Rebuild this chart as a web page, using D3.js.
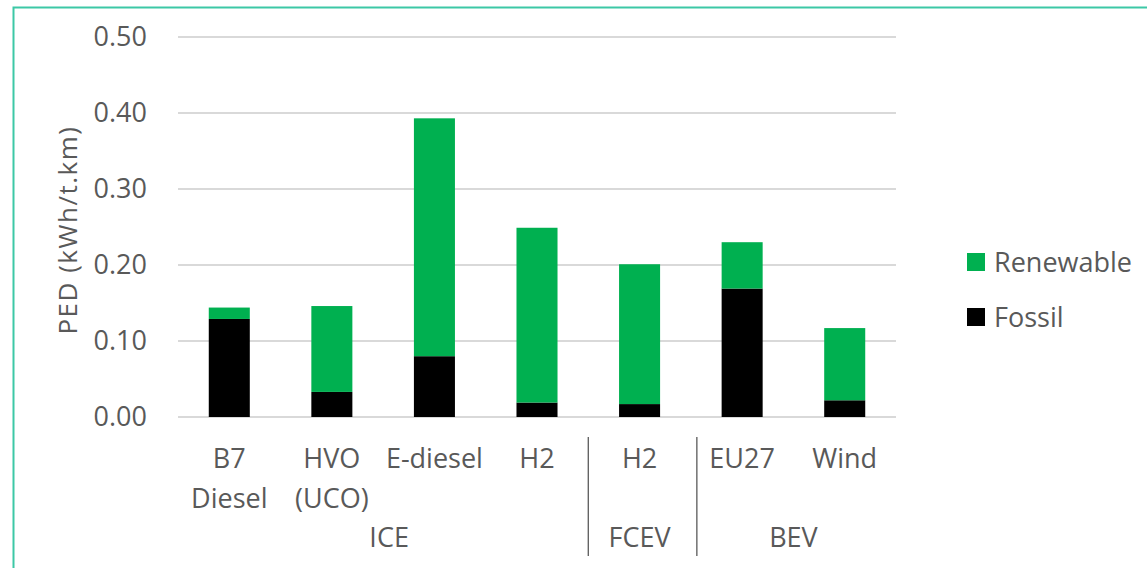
<!DOCTYPE html>
<html>
<head>
<meta charset="utf-8">
<script src="https://cdn.jsdelivr.net/npm/d3@7"></script>
<style>
  body { margin: 0; background: #fff; }
  text { font-family: "Open Sans", sans-serif; fill: #595959; }
</style>
</head>
<body>
<div id="chart"></div>
<script>
// data
var categories = ["B7|Diesel", "HVO|(UCO)", "E-diesel", "H2", "H2 ", "EU27", "Wind"];
var groups = ["ICE", "ICE", "ICE", "ICE", "FCEV", "BEV", "BEV"];
var fossil = [0.129, 0.033, 0.080, 0.019, 0.017, 0.169, 0.022];
var renewable = [0.015, 0.113, 0.313, 0.230, 0.184, 0.061, 0.095];
var yTicks = [0, 0.1, 0.2, 0.3, 0.4, 0.5];
var seriesNames = ["Renewable", "Fossil"];
var seriesColors = ["#00b050", "#000000"];

var W = 1147, H = 568,
	margin = {top: 37, left: 178, right: 251, bottom: 151},
	width = W - margin.left - margin.right,
	height = H - margin.top - margin.bottom;

var svg = d3.select("#chart").append("svg")
	.attr("width", W).attr("height", H);

// outer frame (cut off at right and bottom like the screenshot)
svg.append("rect")
	.attr("x", 13.5).attr("y", 7.5)
	.attr("width", W).attr("height", H)
	.attr("fill", "none").attr("stroke", "#3cc8a6").attr("stroke-width", 2);

var g = svg.append("g").attr("transform", "translate(" + margin.left + "," + margin.top + ")");

var x = d3.scaleBand().domain(categories).range([0, width]).paddingInner(0.6).paddingOuter(0.3);
var y = d3.scaleLinear().domain([0, 0.5]).range([height, 0]);

// gridlines
g.selectAll(".grid").data(yTicks).enter().append("line")
	.attr("x1", 0).attr("x2", width)
	.attr("y1", function(d) { return y(d); }).attr("y2", function(d) { return y(d); })
	.attr("stroke", "#d9d9d9").attr("stroke-width", 2);

var yAxis = d3.axisLeft(y).tickValues(yTicks).tickFormat(d3.format(".2f")).tickSize(0).tickPadding(31);
g.append("g").call(yAxis)
	.call(function(a) { a.select(".domain").remove(); })
	.selectAll("text").style("font-size", "27px").attr("fill", "#595959");

// stacked bars
var rows = categories.map(function(c, i) { return {cat: c, Fossil: fossil[i], Renewable: renewable[i]}; });
var stack = d3.stack().keys(["Fossil", "Renewable"])(rows);

g.selectAll(".layer").data(stack).enter().append("g")
	.attr("fill", function(d) { return seriesColors[seriesNames.indexOf(d.key)]; })
	.selectAll("rect").data(function(d) { return d; }).enter().append("rect")
	.attr("x", function(d) { return x(d.data.cat); })
	.attr("width", x.bandwidth())
	.attr("y", function(d) { return y(d[1]); })
	.attr("height", function(d) { return y(d[0]) - y(d[1]); });

// category labels
var step = x.step();
var labels = g.selectAll(".cat").data(categories).enter().append("text")
	.attr("text-anchor", "middle")
	.attr("x", function(d) { return x(d) + x.bandwidth() / 2; })
	.attr("y", height + 51)
	.style("font-size", "27px");
labels.each(function(d) {
	var parts = d.trim().split("|");
	var t = d3.select(this);
	parts.forEach(function(p, i) {
		t.append("tspan").attr("x", t.attr("x")).attr("dy", i === 0 ? 0 : 40).text(p);
	});
});

// group labels and separators
var groupNames = ["ICE", "FCEV", "BEV"];
groupNames.forEach(function(gn, gi) {
	var idx = [];
	groups.forEach(function(v, i) { if (v === gn) idx.push(i); });
	var first = categories[idx[0]], last = categories[idx[idx.length - 1]];
	var cx = (x(first) + x(last)) / 2 + x.bandwidth() / 2;
	g.append("text").attr("text-anchor", "middle")
		.attr("x", cx + (gn === "ICE" ? 6 : 0)).attr("y", height + 130)
		.style("font-size", "27px").text(gn);
	if (gi > 0) {
		var bx = x(first) - (step - x.bandwidth()) / 2;
		if (gn === "BEV") bx += 6;
		g.append("line")
			.attr("x1", bx).attr("x2", bx)
			.attr("y1", height + 20).attr("y2", height + 139)
			.attr("stroke", "#595959").attr("stroke-width", 1.3);
	}
});

// legend
var legend = svg.append("g").attr("transform", "translate(967,253)");
seriesNames.forEach(function(s, i) {
	var row = legend.append("g").attr("transform", "translate(0," + (i * 55) + ")");
	row.append("rect").attr("width", 18).attr("height", 18).attr("fill", seriesColors[i]);
	row.append("text").attr("x", 27).attr("y", 19).style("font-size", "27px").text(s);
});

// y title
svg.append("text")
	.attr("transform", "translate(77,230) rotate(-90)")
	.attr("text-anchor", "middle")
	.style("font-size", "26px")
	.attr("letter-spacing", "1.5px")
	.text("PED (kWh/t.km)");
</script>
</body>
</html>
